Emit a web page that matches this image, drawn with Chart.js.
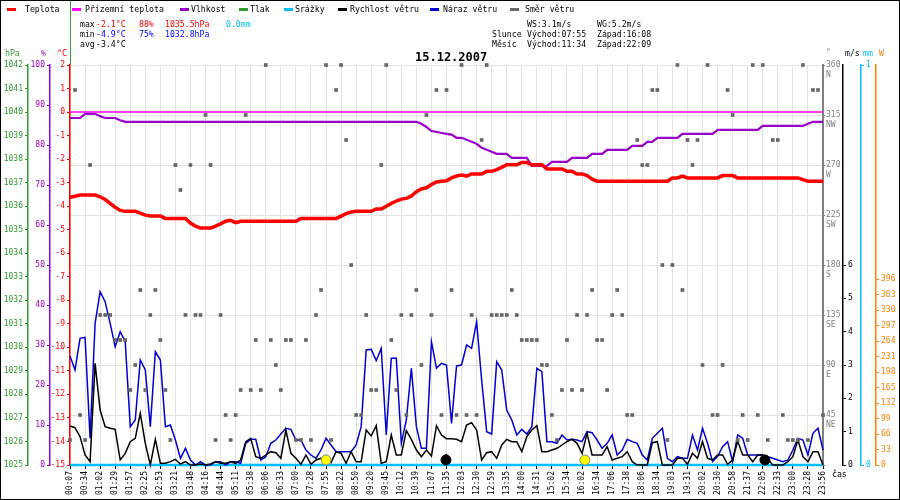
<!DOCTYPE html>
<html><head><meta charset="utf-8">
<script src="https://cdn.jsdelivr.net/npm/chart.js@4.4.1/dist/chart.umd.min.js"></script>
<style>
html,body{margin:0;padding:0;background:#fff;}
#wrap{position:relative;width:900px;height:500px;overflow:hidden;font-family:"DejaVu Sans Mono",monospace;font-size:8.2px;color:#000;}
#c{position:absolute;left:0;top:0;}
.t{position:absolute;white-space:pre;line-height:10px;}
.m{position:absolute;height:3px;width:9px;}
#frame{position:absolute;left:0;top:0;width:900px;height:500px;box-sizing:border-box;border:1px solid #000;pointer-events:none;}
</style></head>
<body><div id="wrap">
<canvas id="c" width="900" height="500"></canvas>

<div class="m" style="left:7px;top:8px;background:#ff0000"></div><div class="t" style="left:25px;top:4px">Teplota</div>
<div class="m" style="left:72px;top:8px;background:#ff00ff"></div><div class="t" style="left:85px;top:4px">Přízemní teplota</div>
<div class="m" style="left:180px;top:8px;background:#9900cc"></div><div class="t" style="left:191px;top:4px">Vlhkost</div>
<div class="m" style="left:239px;top:8px;background:#339933"></div><div class="t" style="left:250px;top:4px">Tlak</div>
<div class="m" style="left:284px;top:8px;background:#00bfff"></div><div class="t" style="left:295px;top:4px">Srážky</div>
<div class="m" style="left:338px;top:8px;background:#000000"></div><div class="t" style="left:350px;top:4px">Rychlost větru</div>
<div class="m" style="left:430px;top:8px;background:#0000cc"></div><div class="t" style="left:443px;top:4px">Náraz větru</div>
<div class="m" style="left:510px;top:8px;background:#666666"></div><div class="t" style="left:525px;top:4px">Směr větru</div>

<div class="t" style="left:80px;top:19px">max</div>
<div class="t" style="left:96px;top:19px;color:#ff0000">-2.1°C</div>
<div class="t" style="left:139px;top:19px;color:#ff0000">88%</div>
<div class="t" style="left:165px;top:19px;color:#ff0000">1035.5hPa</div>
<div class="t" style="left:226px;top:19px;color:#00bfff">0.0mm</div>
<div class="t" style="left:80px;top:29px">min</div>
<div class="t" style="left:96px;top:29px;color:#0000ff">-4.9°C</div>
<div class="t" style="left:139px;top:29px;color:#0000ff">75%</div>
<div class="t" style="left:165px;top:29px;color:#0000ff">1032.8hPa</div>
<div class="t" style="left:80px;top:39px">avg</div>
<div class="t" style="left:96px;top:39px">-3.4°C</div>

<div class="t" style="left:527px;top:19px">WS:3.1m/s</div>
<div class="t" style="left:597px;top:19px">WG:5.2m/s</div>
<div class="t" style="left:492px;top:29px">Slunce</div>
<div class="t" style="left:527px;top:29px">Východ:07:55</div>
<div class="t" style="left:597px;top:29px">Západ:16:08</div>
<div class="t" style="left:492px;top:39px">Měsíc</div>
<div class="t" style="left:527px;top:39px">Východ:11:34</div>
<div class="t" style="left:597px;top:39px">Západ:22:09</div>

<div class="t" style="left:415px;top:51px;font-size:12px;font-weight:bold;line-height:12px">15.12.2007</div>

<div class="t" style="left:5px;top:48px;color:#339933">hPa</div>
<div class="t" style="left:41px;top:48px;color:#9900cc">%</div>
<div class="t" style="left:57px;top:48px;color:#ff0000">°C</div>
<div class="t" style="left:826px;top:47px;color:#808080">°</div>
<div class="t" style="left:845px;top:48px;color:#000">m/s</div>
<div class="t" style="left:863px;top:48px;color:#00bfff">mm</div>
<div class="t" style="left:879px;top:48px;color:#ff8000">W</div>
<div class="t" style="left:832px;top:469px">čas</div>
<div class="t" style="left:443px;top:451px;font-size:10px">↑</div>

<div style="position:absolute;left:70px;top:0;width:1px;height:65px;background:#339933"></div>
<div id="frame"></div>
</div>
<script>
// ---- data ----
const timeLabels = ['00:07','00:34','01:02','01:29','01:57','02:25','02:53','03:21','03:48','04:16','04:44','05:11','05:38','06:06','06:33','07:00','07:28','07:55','08:22','08:50','09:20','09:45','10:12','10:39','11:07','11:35','12:03','12:30','12:59','13:35','14:00','14:31','15:02','15:34','16:02','16:34','17:06','17:38','18:06','18:34','19:03','19:31','20:02','20:30','20:58','21:37','22:05','22:33','23:00','23:28','23:56'];
const SPL = 3; // samples per label interval

const temperature = [
-3.62,-3.58,-3.53,-3.53,-3.53,-3.53,-3.6,-3.72,-3.88,-4.05,
-4.18,-4.22,-4.22,-4.22,-4.3,-4.38,-4.42,-4.42,-4.42,-4.52,
-4.52,-4.52,-4.52,-4.52,-4.72,-4.85,-4.93,-4.93,-4.93,-4.85,
-4.75,-4.64,-4.6,-4.7,-4.64,-4.64,-4.64,-4.64,-4.64,-4.64,
-4.64,-4.64,-4.64,-4.64,-4.64,-4.64,-4.52,-4.52,-4.52,-4.52,
-4.52,-4.52,-4.52,-4.52,-4.42,-4.32,-4.25,-4.22,-4.22,-4.22,
-4.22,-4.12,-4.12,-4.0,-3.88,-3.78,-3.7,-3.67,-3.57,-3.38,
-3.27,-3.22,-3.08,-2.97,-2.94,-2.92,-2.8,-2.72,-2.68,-2.72,
-2.63,-2.63,-2.63,-2.52,-2.52,-2.45,-2.35,-2.24,-2.24,-2.24,
-2.14,-2.14,-2.24,-2.24,-2.24,-2.42,-2.42,-2.42,-2.42,-2.52,
-2.52,-2.63,-2.63,-2.7,-2.85,-2.94,-2.94,-2.94,-2.94,-2.94,
-2.94,-2.94,-2.94,-2.94,-2.94,-2.94,-2.94,-2.94,-2.94,-2.94,
-2.8,-2.8,-2.72,-2.8,-2.8,-2.8,-2.8,-2.8,-2.8,-2.8,
-2.7,-2.7,-2.7,-2.8,-2.8,-2.8,-2.8,-2.8,-2.8,-2.8,
-2.8,-2.8,-2.8,-2.8,-2.8,-2.8,-2.87,-2.94,-2.94,-2.94,
-2.94];

const humidity = [
86.75,86.75,86.75,87.8,87.8,87.8,87.2,86.75,86.75,86.75,
86.2,85.8,85.8,85.8,85.8,85.8,85.8,85.8,85.8,85.8,
85.8,85.8,85.8,85.8,85.8,85.8,85.8,85.8,85.8,85.8,
85.8,85.8,85.8,85.8,85.8,85.8,85.8,85.8,85.8,85.8,
85.8,85.8,85.8,85.8,85.8,85.8,85.8,85.8,85.8,85.8,
85.8,85.8,85.8,85.8,85.8,85.8,85.8,85.8,85.8,85.8,
85.8,85.8,85.8,85.8,85.8,85.8,85.8,85.8,85.8,85.8,
85.3,84.5,83.5,83.3,83.0,82.8,82.6,81.8,81.8,81.3,
80.8,80.3,79.3,78.8,78.3,77.8,77.8,77.8,76.8,76.8,
76.8,76.8,74.8,74.8,74.8,74.8,75.8,75.8,75.8,75.8,
76.8,76.8,76.8,76.8,77.8,77.8,77.8,78.8,78.8,78.8,
78.8,78.8,79.8,79.8,79.8,80.8,80.8,81.8,81.8,81.8,
81.8,81.8,82.8,82.8,82.8,82.8,82.8,82.8,82.8,83.8,
83.8,83.8,83.8,83.8,83.8,83.8,83.8,83.8,84.8,84.8,
84.8,84.8,84.8,84.8,84.8,84.8,84.8,85.3,85.8,85.8,
85.8];

const windGust = [
3.27,2.85,3.8,3.83,0.8,4.25,5.2,4.9,4.25,3.55,
4.0,3.7,1.15,1.35,3.15,2.85,1.15,3.4,3.15,1.15,
1.2,0.75,0.2,0.5,0.15,0,0.1,0,0,0.1,
0.1,0,0.1,0.1,0.05,0.65,0.77,0.77,0.15,0.25,
0.65,0.75,0.93,1.1,1.07,0.75,0.75,0.45,0.3,0.2,
0.45,0.8,0.6,0.4,0.4,0.4,0.4,0.6,1.15,3.45,
3.47,3.13,3.5,0.9,3.2,3.2,0.65,1.35,2.9,1.15,
0.5,0.5,3.7,2.9,3.05,3.0,1.25,2.97,3.0,3.6,
3.5,4.3,2.55,1.0,0.93,3.1,2.85,1.65,1.35,0.9,
1.07,0.93,1.15,2.9,2.8,0.7,0.7,0.65,0.9,0.75,
0.77,0.75,0.7,1.0,0.97,0.75,0.5,0.65,0.9,0.3,
0.45,0.77,0.7,0.65,0.3,0.15,0.8,0.95,1.1,0.2,
0.1,0.25,0.2,0.2,0.9,0.45,1.1,0.65,0.1,0.25,
0.55,0.7,0.1,0.9,0.8,0.3,0.3,0.3,0.3,0.25,
0.2,0.15,0.1,0.15,0.45,0.8,0.75,0.3,0.95,1.1,
0.45];

const windSpeed = [
1.17,1.12,0.85,0.3,0.1,3.05,1.65,1.15,1.1,1.07,
0.15,0.35,0.7,0.8,1.55,0.65,0,0.77,0.05,0.05,
0.1,0.17,0.03,0.1,0,0,0.03,0,0.03,0.1,
0.05,0.05,0.1,0.05,0.15,0.7,0.8,0.25,0.2,0.3,
0.4,0.37,0.2,1.05,0.35,0.2,0.02,0.3,0.02,0.15,
0.2,0.25,0.07,0.4,0.35,0.05,0.4,0.1,0.1,1.05,
0.87,1.18,0.05,0.1,0.9,0.3,0.3,1.03,0.77,0.45,
0.25,0.45,0.27,1.18,0.9,0.79,0.79,0.77,0.7,1.2,
1.27,1.05,0.15,0.37,0.4,0.2,0.6,0.77,0.7,0.7,
0.4,0.85,1.05,1.18,0.4,0.4,0.45,0.5,0.6,0.7,
0.77,0.65,0.35,0.95,0.3,0.3,0.3,0.55,0.15,0.2,
0.25,0.4,0.1,0,0,0,0.67,0.7,0,0,
0,0.2,0.2,0.02,0.35,0.2,0.7,0.2,0.15,0.3,
0.3,0.02,0.15,0.72,0.3,0.3,0.1,0.3,0.3,0.18,
0,0,0,0.1,0.25,0.75,0.25,0.1,0.4,0.4,
0];

const windDir = [
22.5,337.5,45,22.5,270,null,135,135,135,112.5,
112.5,112.5,67.5,90,157.5,67.5,135,157.5,112.5,67.5,
22.5,270,247.5,135,270,135,135,315,270,22.5,
135,45,22.5,45,67.5,315,67.5,112.5,67.5,360,
112.5,90,67.5,112.5,112.5,22.5,22.5,112.5,22.5,135,
157.5,360,22.5,337.5,360,292.5,180,45,45,135,
67.5,67.5,270,360,112.5,67.5,135,45,135,157.5,
90,315,135,337.5,45,337.5,157.5,45,360,45,
135,45,292.5,360,135,135,135,135,157.5,135,
112.5,112.5,112.5,112.5,90,90,45,22.5,67.5,112.5,
67.5,135,67.5,135,157.5,112.5,112.5,67.5,135,157.5,
135,45,45,292.5,270,270,337.5,337.5,180,22.5,
180,360,157.5,292.5,270,292.5,90,360,45,45,
90,337.5,315,22.5,45,22.5,360,45,360,22.5,
292.5,292.5,45,22.5,22.5,22.5,360,22.5,337.5,337.5,
45];

// values at each label time
const groundTemp = [0,0,0,0,0,0,0,0,0,0,0,0,0,0,0,0,0,0,0,0,0,0,0,0,0,0,0,0,0,0,0,0,0,0,0,0,0,0,0,0,0,0,0,0,0,0,0,0,0,0,0];
const rain = [0,0,0,0,0,0,0,0,0,0,0,0,0,0,0,0,0,0,0,0,0,0,0,0,0,0,0,0,0,0,0,0,0,0,0,0,0,0,0,0,0,0,0,0,0,0,0,0,0,0,0];

const sunTimes = ['07:55','16:08'];
const moonTimes = ['11:34','22:09'];
const dirTickLabels = ['', 'NE','E','SE','S','SW','W','NW','N'];

// ---- helpers ----
function series(arr, step){ return arr.map((v,i)=>({x:i*step, y:v})); }
function toMin(t){ const p=t.split(':').map(Number); return p[0]*60+p[1]; }
function timeToIdx(t){
  const m = toMin(t), lm = timeLabels.map(toMin);
  for (let i=0;i<lm.length-1;i++){ if (m>=lm[i] && m<=lm[i+1]) return (i+(m-lm[i])/(lm[i+1]-lm[i]))*SPL; }
  return 0;
}
const FONT = {family:'"DejaVu Sans Mono", monospace', size:8};
const GRID = '#e6e2e2';
function fixW(w){ return function(ax){ ax.width = w; }; }
function stepTicks(from, to, step){ return function(ax){ const t=[]; for(let v=from; v<=to+1e-9; v+=step) t.push({value:Math.round(v*100)/100}); ax.ticks=t; }; }
function sideAxis(pos, weight, min, max, color, width, tickFrom, tickTo, step, extra){
  return Object.assign({
    type:'linear', position:pos, weight:weight, min:min, max:max,
    afterBuildTicks: stepTicks(tickFrom, tickTo, step),
    afterFit: fixW(width),
    grid:{drawOnChartArea:false, tickLength:3, tickColor:color, color:color},
    border:{color:color, width:1.5},
    ticks:{color:color, font:FONT, padding:2, autoSkip:false, callback: v => String(v)}
  }, extra||{});
}

const lastIdx = (timeLabels.length-1)*SPL;

new Chart(document.getElementById('c'), {
  type:'line',
  data:{ datasets:[
    {label:'Slunce', data:sunTimes.map(t=>({x:timeToIdx(t), y:0.15})), yAxisID:'ySpd', showLine:false,
     pointRadius:5, pointBackgroundColor:'#ffff00', pointBorderColor:'#888', pointBorderWidth:1, clip:false},
    {label:'Měsíc', data:moonTimes.map(t=>({x:timeToIdx(t), y:0.15})), yAxisID:'ySpd', showLine:false,
     pointRadius:5, pointBackgroundColor:'#000', pointBorderColor:'#000', pointBorderWidth:1, clip:false},
    {label:'Směr větru', data:series(windDir,1), yAxisID:'yDir', showLine:false, pointStyle:'rect',
     pointRadius:2.6, pointBackgroundColor:'#666666', pointBorderWidth:0, clip:false},
    {label:'Rychlost větru', data:series(windSpeed,1), yAxisID:'ySpd', borderColor:'#000', borderWidth:1.5, pointRadius:0, tension:0, clip:false},
    {label:'Náraz větru', data:series(windGust,1), yAxisID:'ySpd', borderColor:'#0000cc', borderWidth:1.5, pointRadius:0, tension:0, clip:false},
    {label:'Teplota', data:series(temperature,1), yAxisID:'yT', borderColor:'#ff0000', borderWidth:3.5, pointRadius:0, tension:0},
    {label:'Přízemní teplota', data:series(groundTemp,SPL), yAxisID:'yT', borderColor:'#ff00ff', borderWidth:1.5, pointRadius:0},
    {label:'Vlhkost', data:series(humidity,1), yAxisID:'yH', borderColor:'#9900cc', borderWidth:2.2, pointRadius:0, tension:0},
    {label:'Srážky', data:series(rain,SPL), yAxisID:'yRain', borderColor:'#00bfff', borderWidth:2.5, pointRadius:0, clip:false}
  ]},
  options:{
    responsive:false, animation:false, devicePixelRatio:1, events:[],
    layout:{padding:{top:65, left:0, right:0, bottom:2}},
    plugins:{legend:{display:false}, tooltip:{enabled:false}},
    scales:{
      x:{type:'linear', min:0, max:lastIdx,
         afterBuildTicks: ax => { ax.ticks = timeLabels.map((t,i)=>({value:i*SPL})); },
         afterFit: ax => { ax.height = 33; },
         ticks:{autoSkip:false, maxRotation:90, minRotation:90, font:FONT, color:'#000', padding:2,
                callback: v => timeLabels[Math.round(v/SPL)]},
         grid:{color:GRID, tickLength:4, tickColor:'#000'},
         border:{color:'#000', width:1}},
      yT: sideAxis('left', 0, -15, 2, '#ff0000', 20, -15, 2, 1),
      yH: sideAxis('left', 1, 0, 100, '#9900cc', 22, 0, 100, 10),
      yP: sideAxis('left', 2, 1025, 1042, '#339933', 28, 1025, 1042, 1),
      yDir: sideAxis('right', 0, 0, 360, '#808080', 20, 0, 360, 45, {
        grid:{drawOnChartArea:true, color:GRID, tickLength:2, tickColor:'#808080'},
        border:{color:'#808080', width:2},
        ticks:{color:'#808080', font:FONT, padding:1, autoSkip:false,
               callback: v => v===0 ? '' : ['', String(v), dirTickLabels[Math.round(v/45)]]}
      }),
      ySpd: sideAxis('right', 1, 0, 12, '#000000', 18, 0, 6, 1),
      yRain: sideAxis('right', 2, 0, 1, '#00bfff', 15, 0, 1, 1),
      yW: sideAxis('right', 3, 0, 852, '#ff8000', 24, 0, 396, 33)
    }
  }
});
</script>
</body></html>
